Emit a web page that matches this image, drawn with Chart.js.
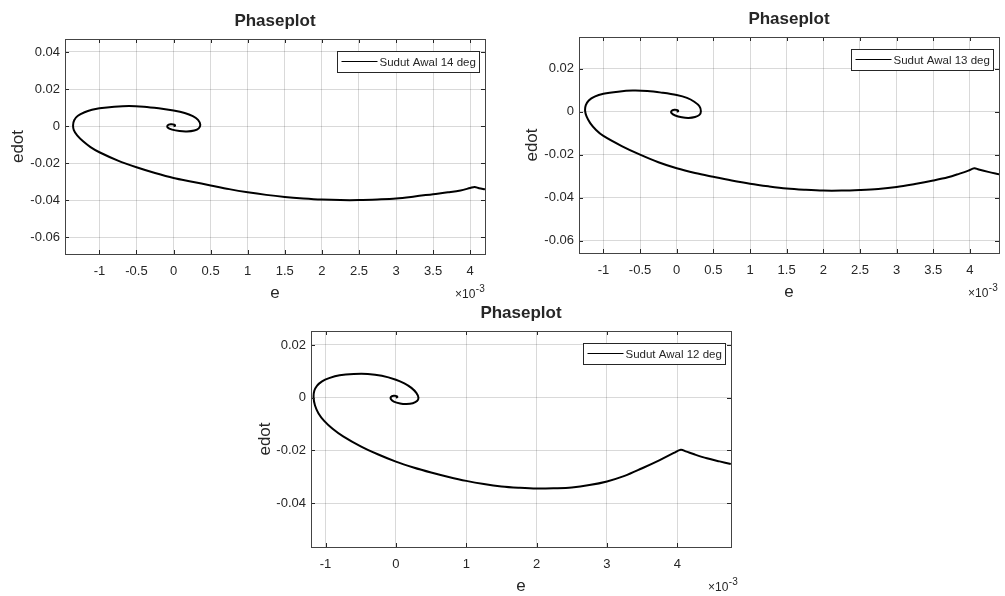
<!DOCTYPE html>
<html>
<head>
<meta charset="utf-8">
<script src="https://cdn.jsdelivr.net/npm/chart.js@4"></script>
<style>
  html, body { margin: 0; padding: 0; background: #fff; }
  body { width: 1005px; height: 596px; overflow: hidden; position: relative; }
  .box { position: absolute; }
</style>
</head>
<body>
<div class="box" style="left:0px;top:0px;width:500px;height:310px"><canvas id="c14" width="500" height="310"></canvas></div>
<div class="box" style="left:500px;top:0px;width:505px;height:310px"><canvas id="c13" width="505" height="310"></canvas></div>
<div class="box" style="left:240px;top:296px;width:520px;height:310px"><canvas id="c12" width="520" height="310"></canvas></div>
<script>
// e values are in units of 1e-3 (axis shows x10^-3)
const e14 = [4.2, 4.12, 4.06, 4.0, 3.87, 3.7, 3.5, 3.25, 3.0, 2.75, 2.5, 2.25, 2.0, 1.75, 1.5, 1.25, 1.0, 0.75, 0.5, 0.25, 0.0, -0.25, -0.5, -0.75, -1.0, -1.12, -1.22, -1.3, -1.345, -1.355, -1.34, -1.29, -1.2, -1.1, -1.0, -0.8, -0.6, -0.4, -0.2, 0.0, 0.15, 0.26, 0.33, 0.36, 0.34, 0.28, 0.18, 0.08, -0.02, -0.08, -0.08, -0.04, 0.01, 0.02, 0.0];
const edot14 = [-0.0341, -0.0335, -0.0328, -0.0334, -0.0347, -0.0357, -0.0367, -0.0380, -0.0391, -0.0396, -0.0399, -0.0399, -0.0396, -0.0390, -0.0382, -0.0371, -0.0357, -0.0340, -0.0320, -0.0300, -0.0280, -0.0253, -0.0222, -0.0186, -0.0141, -0.0113, -0.0082, -0.0050, -0.0022, 0.0005, 0.0032, 0.0056, 0.0075, 0.0088, 0.0096, 0.0105, 0.0109, 0.0105, 0.0096, 0.0084, 0.0071, 0.0054, 0.0034, 0.0008, -0.0012, -0.0024, -0.0029, -0.0027, -0.0019, -0.0008, 0.0004, 0.0010, 0.0008, 0.0002, 0.0];

const e13 = [4.4, 4.25, 4.12, 4.06, 3.98, 3.86, 3.7, 3.5, 3.25, 3.0, 2.75, 2.5, 2.25, 2.0, 1.75, 1.5, 1.25, 1.0, 0.75, 0.5, 0.25, 0.0, -0.25, -0.5, -0.75, -1.0, -1.1, -1.18, -1.23, -1.25, -1.24, -1.2, -1.12, -1.0, -0.8, -0.6, -0.4, -0.2, 0.0, 0.14, 0.24, 0.31, 0.33, 0.31, 0.25, 0.16, 0.07, -0.02, -0.07, -0.07, -0.03, 0.01, 0.02, 0.0];
const edot13 = [-0.0291, -0.0280, -0.0269, -0.0263, -0.0274, -0.0288, -0.0305, -0.0320, -0.0336, -0.0350, -0.0359, -0.0364, -0.0367, -0.0367, -0.0363, -0.0357, -0.0347, -0.0335, -0.0320, -0.0303, -0.0285, -0.0263, -0.0235, -0.0200, -0.0160, -0.0113, -0.0085, -0.0053, -0.0022, 0.0005, 0.0030, 0.0052, 0.0070, 0.0083, 0.0093, 0.0098, 0.0096, 0.0088, 0.0077, 0.0064, 0.0046, 0.0025, 0.0002, -0.0015, -0.0025, -0.0029, -0.0026, -0.0018, -0.0007, 0.0004, 0.0009, 0.0007, 0.0002, 0.0];

const e12 = [4.76, 4.6, 4.42, 4.25, 4.12, 4.05, 3.95, 3.75, 3.5, 3.25, 3.0, 2.75, 2.5, 2.25, 2.0, 1.75, 1.5, 1.25, 1.0, 0.75, 0.5, 0.25, 0.0, -0.25, -0.5, -0.75, -0.9, -1.02, -1.1, -1.15, -1.17, -1.16, -1.12, -1.05, -0.95, -0.8, -0.6, -0.4, -0.2, 0.0, 0.12, 0.22, 0.29, 0.32, 0.30, 0.24, 0.15, 0.06, -0.03, -0.07, -0.07, -0.03, 0.01, 0.02, 0.0];
const edot12 = [-0.0252, -0.0242, -0.0230, -0.0216, -0.0204, -0.0198, -0.0210, -0.0237, -0.0268, -0.0297, -0.0318, -0.0332, -0.0341, -0.0344, -0.0345, -0.0342, -0.0337, -0.0328, -0.0316, -0.0301, -0.0284, -0.0265, -0.0243, -0.0216, -0.0185, -0.0147, -0.0118, -0.0088, -0.0060, -0.0030, 0.0000, 0.0026, 0.0046, 0.0062, 0.0074, 0.0085, 0.0090, 0.0090, 0.0083, 0.0068, 0.0054, 0.0037, 0.0018, 0.0000, -0.0013, -0.0021, -0.0024, -0.0022, -0.0015, -0.0006, 0.0003, 0.0007, 0.0006, 0.0002, 0.0];

const xTicksHalf = [-1, -0.5, 0, 0.5, 1, 1.5, 2, 2.5, 3, 3.5, 4];
const xTicksUnit = [-1, 0, 1, 2, 3, 4];
const yTicks14 = [-0.06, -0.04, -0.02, 0, 0.02, 0.04];
const yTicks13 = [-0.06, -0.04, -0.02, 0, 0.02];
const yTicks12 = [-0.04, -0.02, 0, 0.02];

const FONT = '"Liberation Sans", Arial, sans-serif';
const INK = "#262626";

// title, legend, inner ticks, box and the x10^-3 note, drawn the MATLAB way
const phaseDecor = {
  id: "phaseDecor",
  afterDraw(chart, args, opts) {
    const { ctx, chartArea: a, scales } = chart;
    ctx.save();

    ctx.strokeStyle = INK;
    ctx.lineWidth = 1;
    ctx.beginPath();
    scales.x.ticks.forEach(t => {
      const px = Math.round(scales.x.getPixelForValue(t.value)) + 0.5;
      ctx.moveTo(px, a.bottom); ctx.lineTo(px, a.bottom - 4);
      ctx.moveTo(px, a.top); ctx.lineTo(px, a.top + 4);
    });
    scales.y.ticks.forEach(t => {
      const py = Math.round(scales.y.getPixelForValue(t.value)) + 0.5;
      ctx.moveTo(a.left, py); ctx.lineTo(a.left + 4, py);
      ctx.moveTo(a.right, py); ctx.lineTo(a.right - 4, py);
    });
    ctx.stroke();

    ctx.strokeStyle = "#444";
    ctx.strokeRect(Math.round(a.left) + 0.5, Math.round(a.top) + 0.5,
      Math.round(a.width), Math.round(a.height));

    ctx.fillStyle = INK;
    ctx.font = "bold 17px " + FONT;
    ctx.textAlign = "center";
    ctx.textBaseline = "middle";
    ctx.fillText(opts.title, (a.left + a.right) / 2, a.top - 18);

    // legend box
    const w = 142, h = 21;
    const lx = Math.round(a.right - 6 - w) + 0.5, ly = Math.round(a.top + 12) + 0.5;
    ctx.fillStyle = "#fff";
    ctx.fillRect(lx, ly, w, h);
    ctx.strokeStyle = INK;
    ctx.strokeRect(lx, ly, w, h);
    ctx.beginPath();
    ctx.moveTo(lx + 4, ly + 10); ctx.lineTo(lx + 40, ly + 10);
    ctx.strokeStyle = "#000";
    ctx.stroke();
    ctx.fillStyle = INK;
    ctx.font = "11.5px " + FONT;
    ctx.textAlign = "left";
    ctx.fillText(chart.data.datasets[0].label, lx + 42, ly + h / 2 + 0.5);

    // exponent note
    const ex = a.right + opts.expDx, ey = a.bottom + opts.expDy;
    ctx.textBaseline = "alphabetic";
    ctx.font = "12px " + FONT;
    ctx.fillText("\u00d710", ex, ey);
    const bw = ctx.measureText("\u00d710").width;
    ctx.font = "10px " + FONT;
    ctx.fillText("-3", ex + bw + 0.5, ey - 6);

    ctx.restore();
  }
};

function makePhase(id, es, eds, label, xr, yr, xTicks, yTicks, lay) {
  const pts = es.map((v, i) => ({ x: v, y: eds[i] }));
  return new Chart(document.getElementById(id), {
    type: "scatter",
    data: {
      datasets: [{
        label: label,
        data: pts,
        showLine: true,
        borderColor: "#000",
        borderWidth: 2,
        pointRadius: 0,
        tension: 0.35
      }]
    },
    options: {
      responsive: false,
      animation: false,
      devicePixelRatio: 1,
      layout: { padding: { left: 0, top: lay.top, right: lay.right, bottom: 0 } },
      scales: {
        x: {
          type: "linear",
          min: xr[0],
          max: xr[1],
          afterBuildTicks: s => { s.ticks = xTicks.map(v => ({ value: v })); },
          afterFit: s => { s.height = lay.xH; },
          grid: { color: "rgba(0,0,0,0.15)", drawTicks: false },
          border: { display: false },
          ticks: {
            padding: 10,
            color: INK,
            font: { family: FONT, size: 13 },
            maxRotation: 0,
            callback: v => String(v)
          },
          title: {
            display: true,
            text: "e",
            color: INK,
            font: { family: FONT, size: 17 },
            padding: { top: 0, bottom: lay.xTitlePad }
          }
        },
        y: {
          type: "linear",
          min: yr[0],
          max: yr[1],
          afterBuildTicks: s => { s.ticks = yTicks.map(v => ({ value: v })); },
          afterFit: s => { s.width = lay.yW; },
          grid: { color: "rgba(0,0,0,0.15)", drawTicks: false },
          border: { display: false },
          ticks: {
            padding: 5,
            color: INK,
            font: { family: FONT, size: 13 },
            callback: v => String(v)
          },
          title: {
            display: true,
            text: "edot",
            color: INK,
            font: { family: FONT, size: 17 },
            padding: { top: lay.yTitlePad, bottom: 0 }
          }
        }
      },
      plugins: {
        legend: { display: false },
        tooltip: { enabled: false },
        phaseDecor: { title: "Phaseplot", expDx: lay.expDx, expDy: 44 }
      }
    },
    plugins: [phaseDecor]
  });
}

makePhase("c14", e14, edot14, "Sudut Awal 14 deg", [-1.464, 4.2], [-0.069, 0.047], xTicksHalf, yTicks14,
  { top: 39, right: 15, yW: 65, xH: 56, xTitlePad: 6, yTitlePad: 8, expDx: -30 });
makePhase("c13", e13, edot13, "Sudut Awal 13 deg", [-1.333, 4.397], [-0.0657, 0.0347], xTicksHalf, yTicks13,
  { top: 37, right: 6, yW: 79, xH: 57, xTitlePad: 7, yTitlePad: 22, expDx: -31 });
makePhase("c12", e12, edot12, "Sudut Awal 12 deg", [-1.207, 4.763], [-0.0567, 0.0253], xTicksUnit, yTicks12,
  { top: 35, right: 29, yW: 71, xH: 59, xTitlePad: 9, yTitlePad: 15, expDx: -23 });
</script>
</body>
</html>
